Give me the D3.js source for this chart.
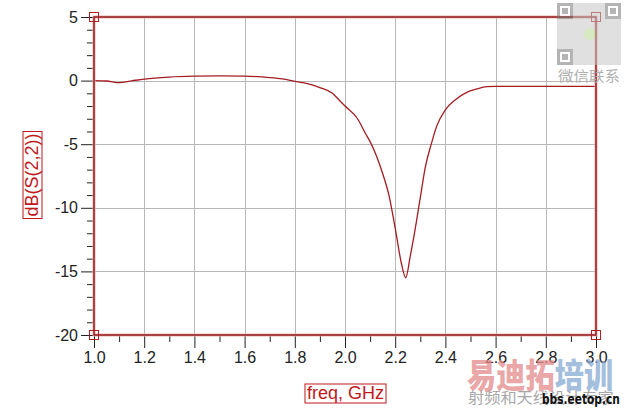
<!DOCTYPE html>
<html>
<head>
<meta charset="utf-8">
<script src="https://cdn.jsdelivr.net/npm/d3@7/dist/d3.min.js"></script>
<style>
html,body{margin:0;padding:0;background:#fff;}
svg{display:block;}
</style>
</head>
<body>
<svg id="chart" width="626" height="413"></svg>
<script>
// ---- data ----
const freq = [1.00,1.05,1.10,1.15,1.20,1.30,1.40,1.50,1.60,1.70,1.75,1.80,1.85,1.90,1.95,1.98,2.00,2.05,2.08,2.10,2.125,2.15,2.175,2.20,2.225,2.242,2.26,2.275,2.30,2.32,2.345,2.365,2.40,2.44,2.485,2.525,2.565,2.60,2.80,3.00];
const s22  = [0.00,-0.03,-0.16,-0.02,0.12,0.28,0.35,0.37,0.35,0.24,0.13,-0.06,-0.24,-0.55,-1.00,-1.60,-2.00,-3.00,-4.10,-4.80,-5.90,-7.30,-9.00,-11.6,-14.4,-15.5,-13.8,-12.2,-9.2,-6.8,-4.9,-3.6,-2.3,-1.5,-0.92,-0.66,-0.48,-0.45,-0.45,-0.45];
const xTicks = [1.0,1.2,1.4,1.6,1.8,2.0,2.2,2.4,2.6,2.8,3.0];
const xTickLabels = ["1.0","1.2","1.4","1.6","1.8","2.0","2.2","2.4","2.6","2.8","3.0"];
const yTicks = [5,0,-5,-10,-15,-20];
const yTickLabels = ["5","0","-5","-10","-15","-20"];
const xMinor = [1.1,1.3,1.5,1.7,1.9,2.1,2.3,2.5,2.7,2.9];
const yMinor = d3.range(-20,6,1).filter(v => v % 5 !== 0);
const xTitle = "freq, GHz";
const yTitle = "dB(S(2,2))";

// ---- layout ----
const svg = d3.select("#chart");
const x = d3.scaleLinear().domain([1,3]).range([94,596]);
const y = d3.scaleLinear().domain([-20,5]).range([335,17]);
const red = "#c0181c";
const frame = "#8e1414";
const font = "'Liberation Sans', Arial, sans-serif";

// grid
svg.append("g").selectAll("line.gx").data(xTicks.slice(1,-1)).join("line")
  .attr("x1", d=>Math.round(x(d))+0.5).attr("x2", d=>Math.round(x(d))+0.5)
  .attr("y1", y(5)).attr("y2", y(-20))
  .attr("stroke", "#b8b8b8").attr("stroke-width", 1);
svg.append("g").selectAll("line.gy").data(yTicks.slice(1,-1)).join("line")
  .attr("y1", d=>Math.round(y(d))+0.5).attr("y2", d=>Math.round(y(d))+0.5)
  .attr("x1", x(1)).attr("x2", x(3))
  .attr("stroke", "#b8b8b8").attr("stroke-width", 1);

// axes ticks
const yAxis = d3.axisLeft(y).tickValues(yTicks).tickSize(13).tickPadding(3)
  .tickFormat((d,i)=>yTickLabels[i]);
const gy = svg.append("g").attr("transform", `translate(${x(1)},0)`).call(yAxis);
gy.select(".domain").remove();
gy.selectAll("line").attr("stroke", "#222");
gy.selectAll("text").attr("font-family", font).attr("font-size", 16).attr("fill", "#222");

const yAxisMinor = d3.axisLeft(y).tickValues(yMinor).tickSize(7).tickFormat("");
const gym = svg.append("g").attr("transform", `translate(${x(1)},0)`).call(yAxisMinor);
gym.select(".domain").remove();
gym.selectAll("line").attr("stroke", "#222");

const xAxis = d3.axisBottom(x).tickValues(xTicks).tickSize(13).tickPadding(4)
  .tickFormat((d,i)=>xTickLabels[i]);
const gx = svg.append("g").attr("transform", `translate(0,${y(-20)})`).call(xAxis);
gx.select(".domain").remove();
gx.selectAll("line").attr("stroke", "#222");
gx.selectAll("text").attr("font-family", font).attr("font-size", 16).attr("fill", "#222");

const xAxisMinor = d3.axisBottom(x).tickValues(xMinor).tickSize(7).tickFormat("");
const gxm = svg.append("g").attr("transform", `translate(0,${y(-20)})`).call(xAxisMinor);
gxm.select(".domain").remove();
gxm.selectAll("line").attr("stroke", "#222");

// curve
const pts = freq.map((f,i)=>[f, s22[i]]);
svg.append("path").datum(pts)
  .attr("d", d3.line().x(d=>x(d[0])).y(d=>y(d[1])).curve(d3.curveMonotoneX))
  .attr("fill", "none").attr("stroke", "#a31c22").attr("stroke-width", 1.3);

// frame
svg.append("rect").attr("x", x(1)).attr("y", y(5))
  .attr("width", x(3)-x(1)).attr("height", y(-20)-y(5))
  .attr("fill", "none").attr("stroke", "#f0b0b0").attr("stroke-width", 3);
svg.append("rect").attr("x", x(1)).attr("y", y(5))
  .attr("width", x(3)-x(1)).attr("height", y(-20)-y(5))
  .attr("fill", "none").attr("stroke", frame).attr("stroke-width", 1.4);

// corner markers
const corners = [[1,5],[3,5],[1,-20],[3,-20]];
svg.append("g").selectAll("rect").data(corners).join("rect")
  .attr("x", d=>x(d[0])-4.5).attr("y", d=>y(d[1])-4.5)
  .attr("width", 9).attr("height", 9)
  .attr("fill", "none").attr("stroke", "#b02020").attr("stroke-width", 1);

// axis titles
const xt = svg.append("text").text(xTitle)
  .attr("x", 345.5).attr("y", 399).attr("text-anchor", "middle")
  .attr("font-family", font).attr("font-size", 18).attr("fill", red);
const xb = xt.node().getBBox();
svg.append("rect").attr("x", xb.x-2).attr("y", xb.y+1).attr("width", xb.width+4).attr("height", xb.height-1)
  .attr("fill", "none").attr("stroke", red).attr("stroke-width", 1);

const ytG = svg.append("g").attr("transform", "translate(38,175) rotate(-90)");
const yt = ytG.append("text").text(yTitle)
  .attr("x", 0).attr("y", 0).attr("text-anchor", "middle")
  .attr("font-family", font).attr("font-size", 18).attr("fill", red);
const yb = yt.node().getBBox();
ytG.append("rect").attr("x", yb.x-2).attr("y", yb.y+1).attr("width", yb.width+4).attr("height", yb.height-1)
  .attr("fill", "none").attr("stroke", red).attr("stroke-width", 1);

// watermarks
const wm = svg.append("g");
wm.append("g").attr("transform", "translate(467,388) scale(0.86,1)")
  .append("text").attr("x", 0).attr("y", 0)
  .attr("font-family", "'Noto Sans CJK SC', sans-serif").attr("font-weight", 900)
  .attr("font-size", 34)
  .attr("opacity", 0.75)
  .call(t => {
    t.append("tspan").text("易迪拓").attr("fill", "#e48a8a");
    t.append("tspan").text("培训").attr("fill", "#86a9d4");
  });
wm.append("g").attr("transform", "translate(468,403) scale(1.08,1)")
  .append("text").text("射频和天线设计专家").attr("x", 0).attr("y", 0)
  .attr("font-family", "'Noto Sans CJK SC', sans-serif").attr("font-size", 15)
  .attr("fill", "#a8a8a8");
const bbsG = wm.append("g").attr("transform", "translate(542,404)");
const bbs = bbsG.append("text").text("bbs.eetop.cn").attr("x", 0).attr("y", 0)
  .attr("font-family", "'DejaVu Sans Condensed', 'DejaVu Sans', sans-serif").attr("font-weight", "bold")
  .attr("font-size", 14).attr("fill", "#111");
const bw = bbs.node().getComputedTextLength();
bbsG.attr("transform", `translate(542,404) scale(${78/bw},1)`);

// QR-like mark
const qr = svg.append("g").attr("opacity", 0.55);
qr.append("rect").attr("x", 557).attr("y", 3).attr("width", 64).attr("height", 62).attr("fill", "#c8c8c8");
[[557,3],[605,3],[557,49]].forEach(p => {
  qr.append("rect").attr("x", p[0]+1.5).attr("y", p[1]+1.5).attr("width", 13).attr("height", 13)
    .attr("fill", "#fff").attr("stroke", "#777").attr("stroke-width", 3);
  qr.append("rect").attr("x", p[0]+5).attr("y", p[1]+5).attr("width", 6).attr("height", 6).attr("fill", "#777");
});
qr.append("circle").attr("cx", 590).attr("cy", 34).attr("r", 6).attr("fill", "#b8d890");
wm.append("text").text("微信联系").attr("x", 558).attr("y", 81)
  .attr("font-family", "'Noto Sans CJK SC', sans-serif").attr("font-size", 14)
  .attr("textLength", 62).attr("lengthAdjust", "spacingAndGlyphs")
  .attr("fill", "#b0b0b0");
</script>
</body>
</html>
